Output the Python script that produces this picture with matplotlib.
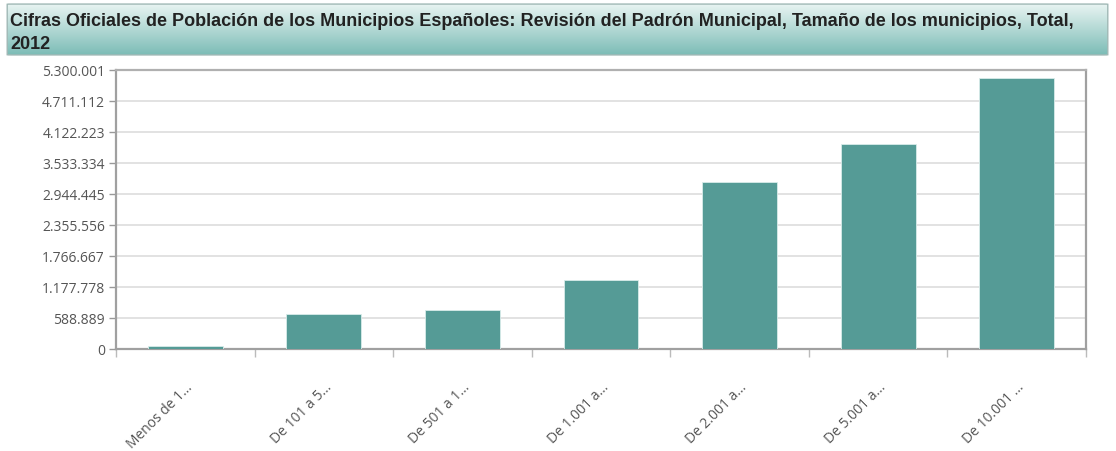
import matplotlib
matplotlib.use("Agg")
import matplotlib.pyplot as plt
import numpy as np
from matplotlib.patches import FancyBboxPatch
from matplotlib.ticker import FixedLocator, NullFormatter

# data
categories = ["Menos de 1...", "De 101 a 5...", "De 501 a 1...", "De 1.001 a...",
              "De 2.001 a...", "De 5.001 a...", "De 10.001 ..."]
values = [52000, 653000, 729000, 1300000, 3173000, 3885000, 5142000]
y_ticks = [0, 588889, 1177778, 1766667, 2355556, 2944445, 3533334, 4122223, 4711112, 5300001]
title = ("Cifras Oficiales de Población de los Municipios Españoles: Revisión del Padrón "
         "Municipal, Tamaño de los municipios, Total,\n2012")

W, H = 1116, 452
fig = plt.figure(figsize=(W / 100, H / 100), dpi=100)

# title bar with gradient
tx0, ty0, tx1, ty1 = 5, 4, 1110, 57
tax = fig.add_axes([tx0 / W, 1 - ty1 / H, (tx1 - tx0) / W, (ty1 - ty0) / H])
tax.set_xlim(0, 1)
tax.set_ylim(0, 1)
tax.axis("off")
top_c = np.array([0xea, 0xf5, 0xf3]) / 255
bot_c = np.array([0x7a, 0xbb, 0xb5]) / 255
t = np.linspace(0, 1, 100)[:, None]
grad = (top_c[None, :] * (1 - t) + bot_c[None, :] * t)[:, None, :]
im = tax.imshow(grad, extent=[0, 1, 0, 1], aspect="auto", origin="upper", zorder=1)
box = FancyBboxPatch((0.002, 0.02), 0.996, 0.96,
                     boxstyle="round,pad=0,rounding_size=0.004",
                     transform=tax.transAxes, fc="none", ec="#a0b8b5", lw=1, zorder=2)
tax.add_patch(box)
im.set_clip_path(box)
fig.text(10 / W, 1 - 13 / H, title, ha="left", va="top", fontsize=13,
         fontweight="bold", family="Liberation Sans", color="#222222",
         linespacing=1.45)

# main plot
px0, px1, py0, py1 = 116, 1086, 71, 349.5
ax = fig.add_axes([px0 / W, 1 - py1 / H, (px1 - px0) / W, (py1 - py0) / H])
x = np.arange(len(categories))
ax.bar(x, values, width=0.54, color="#559b96", edgecolor="#d8ecea", linewidth=0.6, zorder=3)
ax.set_xlim(-0.5, len(categories) - 0.5)
ax.set_ylim(0, y_ticks[-1])

ax.set_yticks(y_ticks)
ax.set_yticklabels([f"{v:,}".replace(",", ".") for v in y_ticks])
ax.yaxis.grid(True, color="#dddddd", linewidth=1.2, zorder=0)
ax.set_axisbelow(True)

# category ticks at boundaries, labels at centres
ax.xaxis.set_major_locator(FixedLocator(np.arange(-0.5, len(categories) + 0.5, 1)))
ax.xaxis.set_major_formatter(NullFormatter())
ax.xaxis.set_minor_locator(FixedLocator(x))
ax.set_xticklabels(categories, minor=True, rotation=45, ha="right",
                   rotation_mode="anchor")
ax.tick_params(axis="x", which="minor", length=0, pad=22)
ax.tick_params(axis="x", which="major", length=6, color="#bbbbbb", width=1)
ax.tick_params(axis="y", length=5, color="#999999", width=1, pad=3)
for lab in ax.get_yticklabels() + ax.get_xticklabels(minor=True):
    lab.set_fontsize(10)
    lab.set_family("Open Sans")
    lab.set_color("#555555")

for s in ax.spines.values():
    s.set_color("#a0a0a0")
    s.set_linewidth(1.6)
ax.spines["top"].set_color("#b0b0b0")

fig.savefig("out.png", dpi=100)
